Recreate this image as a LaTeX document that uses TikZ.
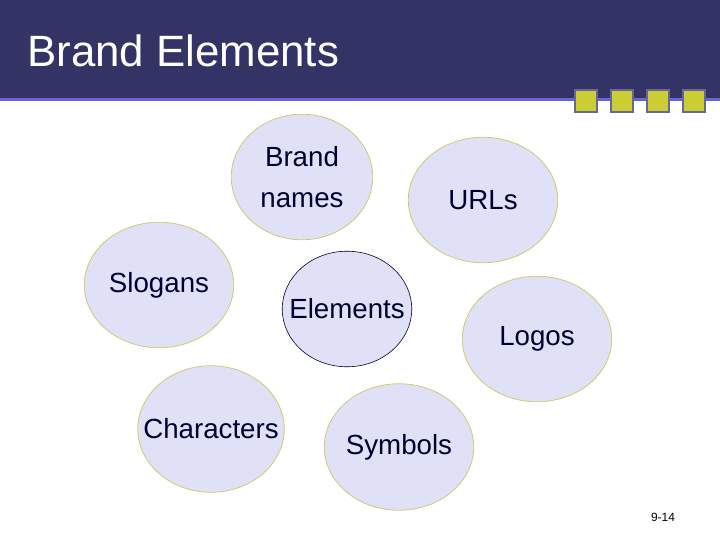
\documentclass[tikz,border=0pt]{standalone}
\usepackage{fontspec}
\setmainfont{Liberation Sans}
\usetikzlibrary{shapes.geometric}
\definecolor{qqqqnn}{rgb}{0.2,0.2,0.4}
\definecolor{nnnncc}{rgb}{0.4,0.4,0.8}
\definecolor{cccczz}{rgb}{0.8,0.8,0.2}
\definecolor{nnnnyy}{rgb}{0.4,0.4,0.6}
\definecolor{eeeeff}{rgb}{0.88,0.88,0.97}
\definecolor{cccczn}{rgb}{0.8,0.8,0.45}
\definecolor{qqqqtt}{rgb}{0.0,0.0,0.2}
\tikzset{
  bubble/.style={ellipse,draw=cccczn,line width=0.8pt,fill=eeeeff,inner sep=-30bp,
    text=qqqqtt,font=\fontsize{27.8}{41}\selectfont,align=center},
  tile/.style={draw=nnnnyy,line width=1.5pt,fill=cccczz}
}
\begin{document}
\begin{tikzpicture}[x=1bp,y=-1bp]
    \useasboundingbox (0,0) rectangle (720,540);
    % title bar
    \fill[qqqqnn] (0,0) rectangle (720,98);
    \fill[nnnncc] (0,98) rectangle (720,101.5);
    \node[anchor=base west,text=white,font=\fontsize{44}{50}\selectfont,inner sep=0pt] (title) at (27,67) {Brand Elements};
    \foreach \i in {0,...,3}
      \draw[tile] (575+36*\i,90) rectangle (597+36*\i,112);
    % bubbles
    \node[bubble,minimum width=142,minimum height=126] (names) at (302,177) {Brand\\names};
    \node[bubble,minimum width=150,minimum height=126] (urls) at (483,200) {URLs};
    \node[bubble,minimum width=150,minimum height=126] (slogans) at (159,285) {Slogans};
    \node[bubble,draw=qqqqtt,line width=0.6pt,minimum width=130,minimum height=116] (elements) at (347,309) {Elements};
    \node[bubble,minimum width=150,minimum height=126] (logos) at (537,339) {Logos};
    \node[bubble,minimum width=147,minimum height=127] (characters) at (211,429) {Characters};
    \node[bubble,minimum width=150,minimum height=127] (symbols) at (399,447) {Symbols};
    \node[font=\fontsize{12}{14}\selectfont] (page) at (663,517) {9-14};
\end{tikzpicture}
\end{document}
